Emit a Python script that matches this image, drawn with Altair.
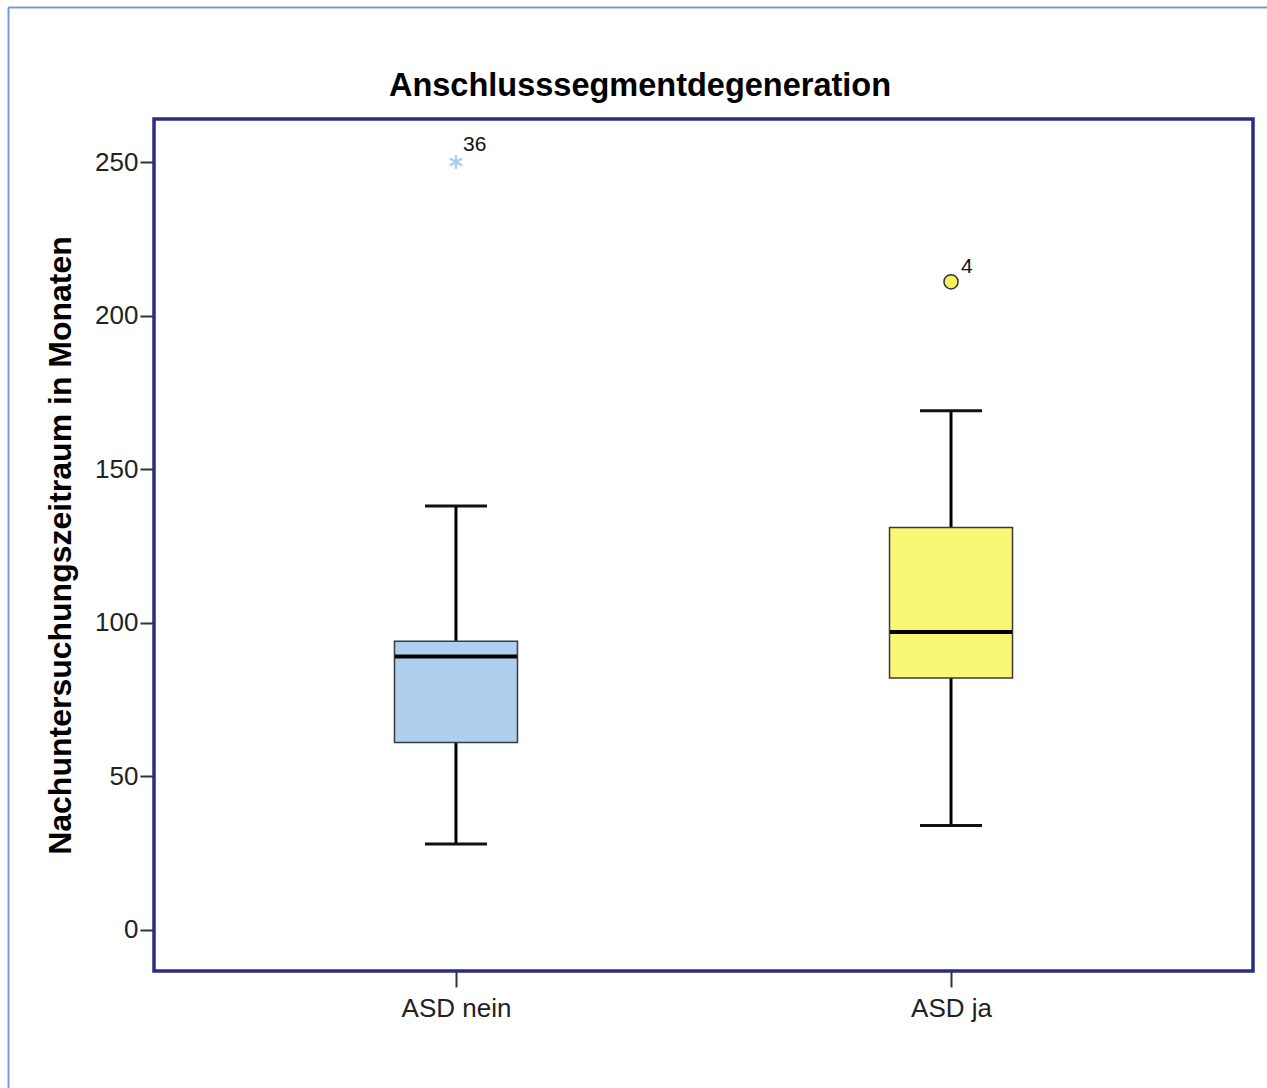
import altair as alt
import pandas as pd

# Box-plot summary per group (months of follow-up)
groups = ["ASD nein", "ASD ja"]
whisker_low = [28, 34]
q1 = [61, 82]
median = [89, 97]
q3 = [94, 131]
whisker_high = [138, 169]
box_fill = ["#aecfed", "#faf775"]

# Outliers with case numbers
outlier_group = ["ASD nein", "ASD ja"]
outlier_value = [250, 211]
outlier_case = ["36", "4"]

y_ticks = [0, 50, 100, 150, 200, 250]
chart_title = "Anschlusssegmentdegeneration"

FONT = "Liberation Sans"
W, H = 1099, 852

boxes = pd.DataFrame({
    "group": groups, "lo": whisker_low, "q1": q1, "med": median,
    "q3": q3, "hi": whisker_high, "fill": box_fill,
})
outliers = pd.DataFrame({"group": outlier_group, "value": outlier_value, "case": outlier_case})

x_enc = alt.X(
    "group:N",
    sort=groups,
    scale=alt.Scale(type="point", padding=0.61),
    axis=alt.Axis(
        title=None, labelFont=FONT, labelFontSize=26, labelColor="#222222",
        labelAngle=0, labelPadding=8, tickSize=16, tickWidth=2, tickColor="#333333",
        domain=False, grid=False, labelBaseline="top",
    ),
)
y_scale = alt.Scale(domain=[-13.35, 264.0], nice=False, zero=False)
y_axis = alt.Axis(
    title="Nachuntersuchungszeitraum in Monaten", values=y_ticks,
    titleFont=FONT, titleFontSize=32, titleFontWeight="bold", titleColor="#000000",
    titleAngle=-90, titleX=-84, titleY=H / 2, titleAlign="center", titleBaseline="alphabetic",
    labelFont=FONT, labelFontSize=26, labelColor="#222222", labelPadding=2,
    tickSize=14, tickWidth=2, tickColor="#333333", domain=False, grid=False,
)

base = alt.Chart(boxes)

whisk_lo = base.mark_rule(color="#000000", strokeWidth=3, opacity=1).encode(
    x=x_enc, y=alt.Y("lo:Q", scale=y_scale, axis=y_axis), y2="q1:Q")
whisk_hi = base.mark_rule(color="#000000", strokeWidth=3, opacity=1).encode(
    x=x_enc, y=alt.Y("q3:Q", scale=y_scale), y2="hi:Q")
cap_lo = base.mark_tick(color="#111111", size=62, thickness=3, opacity=1).encode(
    x=x_enc, y=alt.Y("lo:Q", scale=y_scale))
cap_hi = base.mark_tick(color="#111111", size=62, thickness=3, opacity=1).encode(
    x=x_enc, y=alt.Y("hi:Q", scale=y_scale))
box = base.mark_bar(size=123, stroke="#3a3a3a", strokeWidth=1.5, opacity=1).encode(
    x=x_enc, y=alt.Y("q1:Q", scale=y_scale), y2="q3:Q",
    fill=alt.Fill("fill:N", scale=None))
med = base.mark_tick(color="#000000", size=122, thickness=4, opacity=1).encode(
    x=x_enc, y=alt.Y("med:Q", scale=y_scale))

# Extreme value drawn as an asterisk, outlier as a circle
star_path = "M0,-1L0,1M-0.87,-0.5L0.87,0.5M-0.87,0.5L0.87,-0.5"
star = alt.Chart(outliers).transform_filter(alt.datum.case == "36").mark_point(
    shape=star_path, size=200, stroke="#a9cdf0", strokeWidth=2.4, filled=False, opacity=1,
).encode(x=x_enc, y=alt.Y("value:Q", scale=y_scale))
circ = alt.Chart(outliers).transform_filter(alt.datum.case == "4").mark_point(
    shape="circle", size=200, fill="#f7f05e", stroke="#333333", strokeWidth=1.5,
    filled=True, opacity=1,
).encode(x=x_enc, y=alt.Y("value:Q", scale=y_scale))

lab36 = alt.Chart(outliers).transform_filter(alt.datum.case == "36").mark_text(
    font=FONT, fontSize=21, color="#111111", align="left", baseline="alphabetic", dx=7, dy=-11,
).encode(x=x_enc, y=alt.Y("value:Q", scale=y_scale), text="case:N")
lab4 = alt.Chart(outliers).transform_filter(alt.datum.case == "4").mark_text(
    font=FONT, fontSize=21, color="#111111", align="left", baseline="alphabetic", dx=10, dy=-9,
).encode(x=x_enc, y=alt.Y("value:Q", scale=y_scale), text="case:N")

# Chart heading above the plot frame
title_df = pd.DataFrame({"t": [chart_title]})
title = alt.Chart(title_df).mark_text(
    font=FONT, fontSize=32.5, fontWeight="bold", color="#000000",
    align="center", baseline="alphabetic",
).encode(x=alt.value(486), y=alt.value(-23), text="t:N")

# Thin outer frame around the figure
frame_left = alt.Chart(boxes).mark_rule(color="#6f98d2", strokeWidth=1.5).encode(
    x=alt.value(-145.5), y=alt.value(-111.5), y2=alt.value(H + 117))
frame_top = alt.Chart(boxes).mark_rule(color="#6f98d2", strokeWidth=1.5).encode(
    x=alt.value(-145.5), x2=alt.value(W + 14), y=alt.value(-111.5))

chart = alt.layer(
    frame_left, frame_top, title, whisk_lo, whisk_hi, cap_lo, cap_hi, box, med,
    star, circ, lab36, lab4,
).properties(
    width=W, height=H,
    background="#ffffff",
    autosize=alt.AutoSizeParams(type="none"),
    padding={"left": 154, "top": 119, "right": 14, "bottom": 117},
).configure_view(stroke="#2b2d85", strokeWidth=3.5)

chart.save("out.html", embed_options={"renderer": "svg", "actions": False})
